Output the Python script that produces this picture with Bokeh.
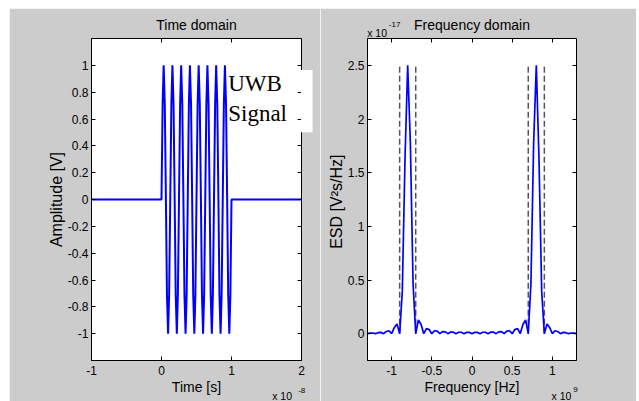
from bokeh.plotting import figure
from bokeh.models import Range1d, FixedTicker, LinearAxis, Label, Spacer
from bokeh.layouts import row, column
from bokeh.embed import file_html
from bokeh.resources import INLINE

# ---------------- data ----------------
# time-domain UWB burst (time in ns, amplitude in V)
t_ns = [-10.0, 0.00, 0.16, 0.31, 0.47, 0.63, 0.78, 0.94, 1.09, 1.25, 1.41, 1.56, 1.72, 1.88,
        2.03, 2.19, 2.34, 2.50, 2.66, 2.81, 2.97, 3.13, 3.28, 3.44, 3.59, 3.75, 3.91, 4.06,
        4.22, 4.38, 4.53, 4.69, 4.84, 5.00, 5.16, 5.31, 5.47, 5.63, 5.78, 5.94, 6.09, 6.25,
        6.41, 6.56, 6.72, 6.88, 7.03, 7.19, 7.34, 7.50, 7.66, 7.81, 7.97, 8.13, 8.28, 8.44,
        8.59, 8.75, 8.91, 9.06, 9.22, 9.38, 9.53, 9.69, 9.84, 10.00, 20.0]
amplitude_v = [0, 0, 0.71, 1, 0.71, 0, -0.71, -1, -0.71,
               0, 0.71, 1, 0.71, 0, -0.71, -1, -0.71,
               0, 0.71, 1, 0.71, 0, -0.71, -1, -0.71,
               0, 0.71, 1, 0.71, 0, -0.71, -1, -0.71,
               0, 0.71, 1, 0.71, 0, -0.71, -1, -0.71,
               0, 0.71, 1, 0.71, 0, -0.71, -1, -0.71,
               0, 0.71, 1, 0.71, 0, -0.71, -1, -0.71,
               0, 0.71, 1, 0.71, 0, -0.71, -1, -0.71,
               0, 0]

# energy spectral density (frequency in GHz, ESD in 1e-17 V^2 s/Hz)
freq_ghz = [-1.3, -1.267, -1.233, -1.2, -1.167, -1.133, -1.1, -1.067, -1.033, -1.0,
            -0.967, -0.933, -0.9, -0.867, -0.833, -0.8, -0.767, -0.733, -0.7, -0.667,
            -0.633, -0.6, -0.567, -0.533, -0.5, -0.467, -0.433, -0.4, -0.367, -0.333,
            -0.3, -0.267, -0.233, -0.2, -0.167, -0.133, -0.1, -0.067, -0.033, 0.0,
            0.033, 0.067, 0.1, 0.133, 0.167, 0.2, 0.233, 0.267, 0.3, 0.333,
            0.367, 0.4, 0.433, 0.467, 0.5, 0.533, 0.567, 0.6, 0.633, 0.667,
            0.7, 0.733, 0.767, 0.8, 0.833, 0.867, 0.9, 0.933, 0.967, 1.0,
            1.033, 1.067, 1.1, 1.133, 1.167, 1.2, 1.233, 1.267, 1.3]
esd_e17 = [0, 0.005, 0.006, 0, 0.009, 0.012, 0, 0.020, 0.027, 0,
           0.056, 0.091, 0, 0.394, 1.641, 2.5, 1.783, 0.465, 0, 0.127,
           0.085, 0, 0.048, 0.038, 0, 0.027, 0.024, 0, 0.019, 0.017,
           0, 0.015, 0.014, 0, 0.013, 0.013, 0, 0.012, 0.012, 0,
           0.012, 0.012, 0, 0.013, 0.013, 0, 0.014, 0.015, 0, 0.017,
           0.019, 0, 0.024, 0.027, 0, 0.038, 0.048, 0, 0.085, 0.127,
           0, 0.465, 1.783, 2.5, 1.641, 0.394, 0, 0.091, 0.056, 0,
           0.027, 0.020, 0, 0.012, 0.009, 0, 0.006, 0.005, 0]

# band edges (GHz), drawn as dashed markers from 0 up to the peak
band_edges_ghz = [-0.9, -0.7, 0.7, 0.9]
band_low = [0, 0, 0, 0]
band_high = [2.5, 2.5, 2.5, 2.5]

time_x_ticks = [-1, 0, 1, 2]
time_x_labels = ["-1", "0", "1", "2"]
time_y_ticks = [-1, -0.8, -0.6, -0.4, -0.2, 0, 0.2, 0.4, 0.6, 0.8, 1]
time_y_labels = ["-1", "-0.8", "-0.6", "-0.4", "-0.2", "0", "0.2", "0.4", "0.6", "0.8", "1"]
freq_x_ticks = [-1, -0.5, 0, 0.5, 1]
freq_x_labels = ["-1", "-0.5", "0", "0.5", "1"]
freq_y_ticks = [0, 0.5, 1, 1.5, 2, 2.5]
freq_y_labels = ["0", "0.5", "1", "1.5", "2", "2.5"]

# ---------------- style ----------------
GREY = "#cccccc"
BLUE = "#0000ff"
FONT = "Liberation Sans"
H = 393


def style_axis(ax, ticks, labels, show=True):
    ax.ticker = FixedTicker(ticks=ticks)
    ax.major_tick_in = 4
    ax.major_tick_out = 0
    ax.major_tick_line_color = "black"
    ax.minor_tick_line_color = None
    ax.axis_line_color = "black"
    ax.major_label_text_font = FONT
    ax.major_label_text_font_size = "12px"
    ax.major_label_text_color = "black"
    ax.axis_label_text_font = FONT
    ax.axis_label_text_font_style = "normal"
    ax.axis_label_text_color = "black"
    if show:
        ax.major_label_overrides = {t: l for t, l in zip(ticks, labels)}
    else:
        ax.major_label_overrides = {t: "" for t in ticks}
        ax.major_label_text_font_size = "0px"
        ax.major_label_standoff = 0
        ax.axis_line_color = None


def make_fig(width, xr, yr, mbl, mbr, title):
    p = figure(width=width, height=H, x_range=Range1d(*xr), y_range=Range1d(*yr),
               output_backend="svg", toolbar_location=None, tools="",
               min_border_left=mbl, min_border_right=mbr,
               min_border_top=29, min_border_bottom=41, title=title)
    p.border_fill_color = GREY
    p.background_fill_color = "white"
    p.outline_line_color = "black"
    p.outline_line_width = 1
    p.grid.visible = False
    p.title.align = "center"
    p.title.text_font = FONT
    p.title.text_font_size = "14px"
    p.title.text_font_style = "normal"
    p.title.text_color = "black"
    p.title.standoff = 12
    return p


def add_box_axes(p, xt, yt):
    top = LinearAxis()
    style_axis(top, xt, None, show=False)
    p.add_layout(top, "above")
    right = LinearAxis()
    style_axis(right, yt, None, show=False)
    p.add_layout(right, "right")


def txt(p, side, x, y, s, size, align="left", base="alphabetic", font=FONT, **kw):
    lab = Label(x=x, y=y, text=s, text_font=font, text_font_size=size,
                text_align=align, text_baseline=base, text_color="black", **kw)
    if side == "center":
        p.add_layout(lab)
    else:
        p.add_layout(lab, side)


# ---------------- time domain ----------------
p1 = make_fig(311, (-1, 2), (-1.2, 1.2), 82, 19, "Time domain")
style_axis(p1.xaxis[0], time_x_ticks, time_x_labels)
style_axis(p1.yaxis[0], time_y_ticks, time_y_labels)
p1.xaxis[0].axis_label = "Time [s]"
p1.xaxis[0].axis_label_text_font_size = "14px"
p1.xaxis[0].major_label_standoff = 5
p1.xaxis[0].axis_label_standoff = 1
p1.yaxis[0].axis_label = "Amplitude [V]"
p1.yaxis[0].axis_label_text_font_size = "16px"
p1.yaxis[0].major_label_standoff = 3
p1.yaxis[0].axis_label_standoff = 0
add_box_axes(p1, time_x_ticks, time_y_ticks)

p1.line([t / 10 for t in t_ns], amplitude_v, line_color=BLUE, line_width=2)

# exponent note (kept in the left side panel so it is not clipped to the frame)
txt(p1, "left", 1.581, -1.4675, "x 10", "10.5px")
txt(p1, "left", 1.953, -1.423, "-8", "8px")
# "UWB Signal" box: text inside the frame, white patch hiding the frame edge
txt(p1, "center", 0.953, 0.955, "UWB\nSignal", "23px", base="top", font="Liberation Serif")
txt(p1, "right", 1.993, 0.733, "\u00a0", "2px", base="middle",
    background_fill_color="white", padding=dict(left=0, right=11, top=30, bottom=30))

# ---------------- frequency domain ----------------
p2 = make_fig(316, (-1.3, 1.3), (-0.25, 2.75), 47, 60, "Frequency domain")
style_axis(p2.xaxis[0], freq_x_ticks, freq_x_labels)
style_axis(p2.yaxis[0], freq_y_ticks, freq_y_labels)
p2.xaxis[0].axis_label = "Frequency [Hz]"
p2.xaxis[0].axis_label_text_font_size = "14px"
p2.xaxis[0].major_label_standoff = 5
p2.xaxis[0].axis_label_standoff = 1
p2.yaxis[0].axis_label = "ESD  [V²s/Hz]"
p2.yaxis[0].axis_label_text_font_size = "16px"
p2.yaxis[0].major_label_standoff = 3
p2.yaxis[0].axis_label_standoff = 0
add_box_axes(p2, freq_x_ticks, freq_y_ticks)

p2.segment(x0=band_edges_ghz, y0=band_low, x1=band_edges_ghz, y1=band_high,
           line_color="#555555", line_width=1.5, line_dash="6 3")
p2.line(freq_ghz, esd_e17, line_color=BLUE, line_width=1.7)

txt(p2, "right", -1.304, 2.799, "x 10", "10.5px")
txt(p2, "right", -1.035, 2.877, "-17", "8px")
txt(p2, "right", 0.989, -0.584, "x 10", "10.5px")
txt(p2, "right", 1.259, -0.519, "9", "8px")

layout = column(Spacer(height=8), row(Spacer(width=9), p1, p2, Spacer(width=3)))
open("out.html", "w").write(file_html(layout, INLINE))
